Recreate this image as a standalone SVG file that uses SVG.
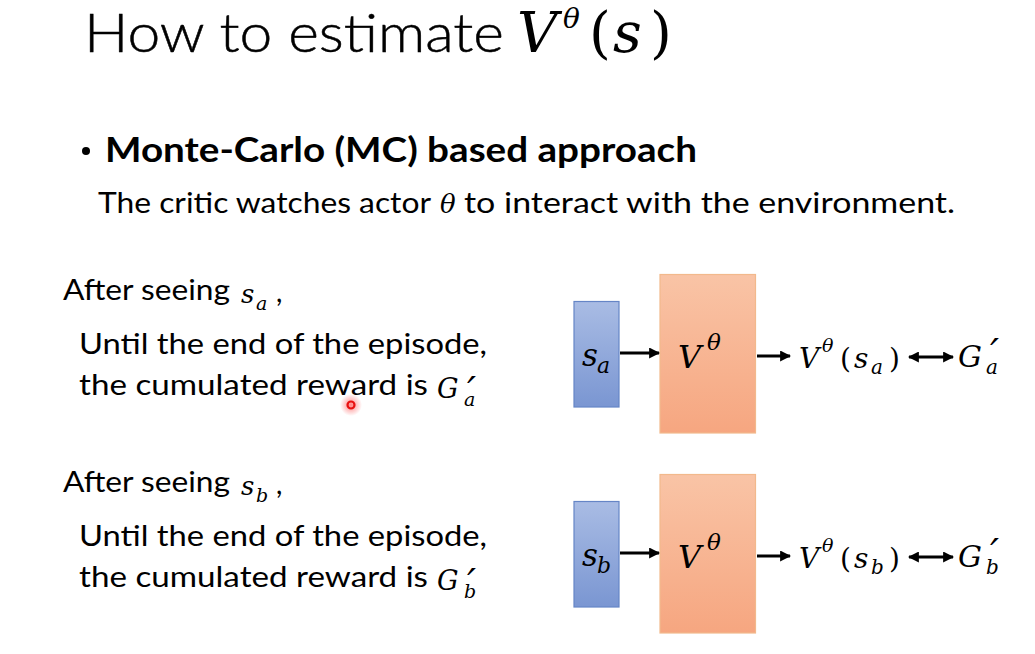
<svg xmlns="http://www.w3.org/2000/svg" width="1035" height="654" viewBox="0 0 1035 654">
<defs>
<linearGradient id="gBlue" x1="0" y1="0" x2="0" y2="1">
<stop offset="0" stop-color="#a9bce4"/>
<stop offset="1" stop-color="#7a96d2"/>
</linearGradient>
<linearGradient id="gOrange" x1="0" y1="0" x2="0" y2="1">
<stop offset="0" stop-color="#f9c4a6"/>
<stop offset="1" stop-color="#f6a680"/>
</linearGradient>
<radialGradient id="gGlow">
<stop offset="0" stop-color="#ff2020" stop-opacity="0.55"/>
<stop offset="1" stop-color="#ff2020" stop-opacity="0"/>
</radialGradient>
<marker id="ah" viewBox="0 0 10 10" refX="9" refY="5" markerWidth="11" markerHeight="11" markerUnits="userSpaceOnUse" orient="auto-start-reverse">
<path d="M0,0 L10,5 L0,10 z" fill="#000"/>
</marker>
</defs>
<style>
.sans{font-family:Lato,"Liberation Sans",sans-serif;fill:#000}
.title{font-size:54px;font-weight:300;stroke:#000;stroke-width:0.5}
.bold{font-size:34px;font-weight:bold}
.body{font-size:28px}
.m{font-family:"DejaVu Serif","Liberation Serif",serif;fill:#000}
.i{font-style:italic}
.blue{fill:url(#gBlue);stroke:#6585c6;stroke-width:1.2}
.orange{fill:url(#gOrange);stroke:#f2b98c;stroke-width:1.2}
.conn{stroke:#000;stroke-width:3;fill:none}
</style>
<rect width="1035" height="654" fill="#fff"/>

<g id="title">
<text class="sans title" x="84" y="52" textLength="420" lengthAdjust="spacingAndGlyphs">How to estimate</text>
<text class="m" y="52"><tspan class="i" x="517" font-size="56">V</tspan><tspan class="i" x="563" y="28" font-size="28">θ</tspan><tspan x="589" y="52" font-size="56">(</tspan><tspan class="i" x="613" font-size="56">s</tspan><tspan x="650" font-size="56">)</tspan></text>
</g>

<g id="bullet">
<circle cx="86" cy="151" r="4" fill="#000"/>
<text class="sans bold" x="105" y="162" textLength="592" lengthAdjust="spacingAndGlyphs">Monte-Carlo (MC) based approach</text>
</g>

<g id="subtitle">
<text class="sans body" x="98" y="213" textLength="333" lengthAdjust="spacingAndGlyphs">The critic watches actor</text>
<text class="m i" x="440" y="213" font-size="26">θ</text>
<text class="sans body" x="464" y="213" textLength="491" lengthAdjust="spacingAndGlyphs">to interact with the environment.</text>
</g>

<g id="textA">
<text class="sans body" x="63" y="300" textLength="167" lengthAdjust="spacingAndGlyphs">After seeing</text>
<text class="m i" x="241" y="303" font-size="26">s<tspan x="256" y="310" font-size="19">a</tspan></text>
<text class="sans body" x="276" y="302">,</text>
<text class="sans body" x="79" y="354" textLength="408" lengthAdjust="spacingAndGlyphs">Until the end of the episode,</text>
<text class="sans body" x="79" y="395" textLength="349" lengthAdjust="spacingAndGlyphs">the cumulated reward is</text>
<text class="m i" x="437" y="398" font-size="27">G<tspan x="464" y="406" font-size="19">a</tspan><tspan x="467" y="405" font-size="40">′</tspan></text>
</g>

<g id="textB">
<text class="sans body" x="63" y="492" textLength="167" lengthAdjust="spacingAndGlyphs">After seeing</text>
<text class="m i" x="241" y="495" font-size="26">s<tspan x="256" y="502" font-size="19">b</tspan></text>
<text class="sans body" x="276" y="494">,</text>
<text class="sans body" x="79" y="546" textLength="408" lengthAdjust="spacingAndGlyphs">Until the end of the episode,</text>
<text class="sans body" x="79" y="587" textLength="349" lengthAdjust="spacingAndGlyphs">the cumulated reward is</text>
<text class="m i" x="437" y="590" font-size="27">G<tspan x="464" y="598" font-size="19">b</tspan><tspan x="467" y="597" font-size="40">′</tspan></text>
</g>

<g id="pointer">
<circle cx="351" cy="405" r="11" fill="url(#gGlow)"/>
<circle cx="351" cy="405" r="3.5" fill="none" stroke="#e81010" stroke-width="2.2"/>
</g>

<g id="stateA">
<rect class="blue" x="574" y="301.5" width="45" height="105.5"/>
<text class="m i" x="582" y="366" font-size="31">s<tspan x="597" y="373" font-size="22">a</tspan></text>
</g>
<g id="criticA">
<rect class="orange" x="660" y="274.5" width="95.5" height="158.5"/>
<text class="m i" x="678" y="368" font-size="32">V<tspan x="707" y="350" font-size="23">θ</tspan></text>
</g>
<g id="valueA">
<text class="m" x="799" y="368" font-size="28"><tspan class="i">V</tspan><tspan class="i" x="822" y="352" font-size="19">θ</tspan><tspan x="840" y="368">(</tspan><tspan class="i" x="854">s</tspan><tspan class="i" x="871" y="374" font-size="20">a</tspan><tspan x="889" y="368">)</tspan></text>
</g>
<g id="returnA">
<text class="m i" x="958" y="367" font-size="30">G<tspan x="986" y="374" font-size="20">a</tspan><tspan x="990" y="367" font-size="40">′</tspan></text>
</g>

<g id="stateB">
<rect class="blue" x="574" y="501.5" width="45" height="105.5"/>
<text class="m i" x="582" y="566" font-size="31">s<tspan x="597" y="573" font-size="22">b</tspan></text>
</g>
<g id="criticB">
<rect class="orange" x="660" y="474.5" width="95.5" height="158.5"/>
<text class="m i" x="678" y="568" font-size="32">V<tspan x="707" y="550" font-size="23">θ</tspan></text>
</g>
<g id="valueB">
<text class="m" x="799" y="568" font-size="28"><tspan class="i">V</tspan><tspan class="i" x="822" y="552" font-size="19">θ</tspan><tspan x="840" y="568">(</tspan><tspan class="i" x="854">s</tspan><tspan class="i" x="871" y="574" font-size="20">b</tspan><tspan x="889" y="568">)</tspan></text>
</g>
<g id="returnB">
<text class="m i" x="958" y="567" font-size="30">G<tspan x="986" y="574" font-size="20">b</tspan><tspan x="990" y="567" font-size="40">′</tspan></text>
</g>

<g id="connectors">
<line class="conn" x1="620" y1="353" x2="659" y2="353" marker-end="url(#ah)"/>
<line class="conn" x1="757" y1="356" x2="790" y2="356" marker-end="url(#ah)"/>
<line class="conn" x1="909" y1="357" x2="953" y2="357" marker-start="url(#ah)" marker-end="url(#ah)"/>
<line class="conn" x1="620" y1="553" x2="659" y2="553" marker-end="url(#ah)"/>
<line class="conn" x1="757" y1="556" x2="790" y2="556" marker-end="url(#ah)"/>
<line class="conn" x1="909" y1="557" x2="953" y2="557" marker-start="url(#ah)" marker-end="url(#ah)"/>
</g>
</svg>
